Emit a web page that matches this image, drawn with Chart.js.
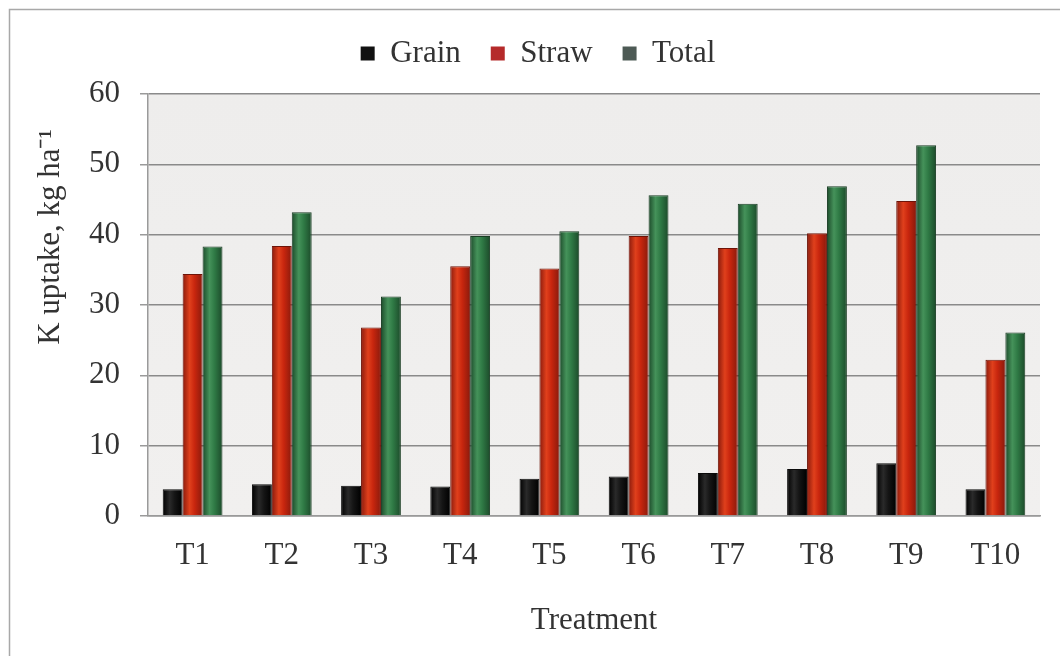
<!DOCTYPE html>
<html>
<head>
<meta charset="utf-8">
<style>
  html, body { margin: 0; padding: 0; background: #ffffff; }
  #wrap { width: 1060px; height: 656px; position: relative; }
</style>
<script src="https://cdn.jsdelivr.net/npm/chart.js@4.4.1/dist/chart.umd.min.js"></script>
</head>
<body>
<div id="wrap"><canvas id="chart" width="1060" height="656"></canvas></div>
<script>
// Potassium uptake per treatment (kg ha-1)
const treatments = ['T1', 'T2', 'T3', 'T4', 'T5', 'T6', 'T7', 'T8', 'T9', 'T10'];
const grain = [3.8, 4.5, 4.3, 4.2, 5.3, 5.6, 6.1, 6.7, 7.5, 3.8];
const straw = [34.4, 38.4, 26.8, 35.5, 35.2, 39.8, 38.1, 40.2, 44.8, 22.2];
const total = [38.3, 43.2, 31.2, 39.8, 40.5, 45.6, 44.4, 46.9, 52.7, 26.1];
const yTicks = [0, 10, 20, 30, 40, 50, 60];

const FONT = '"Liberation Serif", "Times New Roman", serif';
const FS = 31;
const CAT_PCT = 0.67;

// Cylinder-like shading: dark edges, light core
function shaded(dark, mid, light) {
  return function (ctx) {
    const chart = ctx.chart;
    const xs = chart.scales.x;
    if (!xs || ctx.type !== 'data') return mid;
    const catW = (xs.right - xs.left) / treatments.length;
    const barW = catW * CAT_PCT / 3;
    const cx = xs.getPixelForValue(ctx.dataIndex) + (ctx.datasetIndex - 1) * barW;
    const g = chart.ctx.createLinearGradient(cx - barW / 2, 0, cx + barW / 2, 0);
    g.addColorStop(0, dark);
    g.addColorStop(0.35, light);
    g.addColorStop(0.6, mid);
    g.addColorStop(1, dark);
    return g;
  };
}

// Page frame and plot background
const backdrop = {
  id: 'backdrop',
  beforeDraw(chart) {
    const { ctx, chartArea: a } = chart;
    ctx.save();
    ctx.strokeStyle = '#a8a8a8';
    ctx.lineWidth = 1.5;
    ctx.beginPath();
    ctx.moveTo(9.5, 656);
    ctx.lineTo(9.5, 9.5);
    ctx.lineTo(1060, 9.5);
    ctx.stroke();
    const bg = ctx.createLinearGradient(0, a.top, 0, a.bottom);
    bg.addColorStop(0, '#eeedec');
    bg.addColorStop(1, '#f1f0ef');
    ctx.fillStyle = bg;
    ctx.fillRect(a.left, a.top, a.right - a.left, a.bottom - a.top);
    ctx.restore();
  }
};

// Wrap an element's draw method with a fixed offset
function shift(obj, method, dx, dy) {
  if (!obj || obj['_shifted_' + method]) return;
  const orig = obj[method];
  obj[method] = function (...args) {
    const c = this.ctx;
    c.save();
    c.translate(dx, dy);
    orig.apply(this, args);
    c.restore();
  };
  obj['_shifted_' + method] = true;
}

// Extra room below the legend; y-axis title sits higher on the axis
const placement = {
  id: 'placement',
  afterInit(chart) {
    const lg = chart.legend;
    if (!lg) return;
    const fit = lg.fit;
    lg.fit = function () { fit.call(this); this.height += 15; };
    shift(lg, 'draw', 6, 0);
  },
  beforeDraw(chart) {
    shift(chart.scales.y, 'drawTitle', 8, -68);
  }
};

new Chart(document.getElementById('chart'), {
  type: 'bar',
  data: {
    labels: treatments,
    datasets: [
      { label: 'Grain', data: grain,
        backgroundColor: shaded('#000000', '#151515', '#2a2a2a'),
        borderColor: '#0a0a0a', borderWidth: 1 },
      { label: 'Straw', data: straw,
        backgroundColor: shaded('#8a1a0c', '#c8260e', '#e0401c'),
        borderColor: '#6e1408', borderWidth: 1 },
      { label: 'Total', data: total,
        backgroundColor: shaded('#1c4a2a', '#2f7a45', '#45925a'),
        borderColor: '#1a3d24', borderWidth: 1 }
    ]
  },
  options: {
    responsive: false,
    animation: false,
    devicePixelRatio: 1,
    layout: { padding: { top: 8, right: 20, bottom: 0, left: 24 } },
    datasets: { bar: { categoryPercentage: CAT_PCT, barPercentage: 1.0 } },
    plugins: {
      legend: {
        position: 'top',
        labels: {
          font: { family: FONT, size: FS },
          color: '#333333',
          boxWidth: 14,
          boxHeight: 14,
          padding: 30,
          generateLabels(chart) {
            const solid = ['#111111', '#b52a2a', '#4d5a55'];
            return chart.data.datasets.map((d, i) => ({
              text: d.label,
              fillStyle: solid[i],
              strokeStyle: solid[i],
              lineWidth: 0,
              hidden: false,
              datasetIndex: i,
              fontColor: '#333333'
            }));
          }
        }
      },
      tooltip: { enabled: false }
    },
    scales: {
      x: {
        grid: { display: false, drawTicks: false },
        border: { display: true, color: '#9a9a9a', width: 1.5 },
        ticks: { font: { family: FONT, size: FS }, color: '#333333', padding: 21 },
        title: { display: true, text: 'Treatment', font: { family: FONT, size: FS }, color: '#333333', padding: { top: 0, bottom: 17 } },
        afterFit(s) { s.height = 140; }
      },
      y: {
        min: 0, max: 60,
        afterBuildTicks(s) { s.ticks = yTicks.map(v => ({ value: v })); },
        grid: { color: '#8a8a8a', lineWidth: 1.5, drawTicks: true, tickLength: 8, tickColor: '#9a9a9a' },
        border: { display: true, color: '#9a9a9a', width: 1.5 },
        ticks: { font: { family: FONT, size: FS }, color: '#333333', padding: 20 },
        title: { display: true, text: 'K uptake, kg ha⁻¹', font: { family: FONT, size: FS }, color: '#333333', padding: 0 },
        afterFit(s) { s.width = 124; }
      }
    }
  },
  plugins: [backdrop, placement]
});
</script>
</body>
</html>
